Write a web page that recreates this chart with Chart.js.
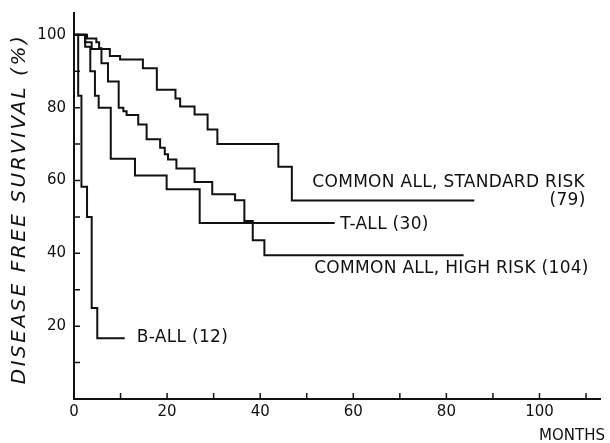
<!DOCTYPE html>
<html>
<head>
<meta charset="utf-8">
<script src="https://cdn.jsdelivr.net/npm/chart.js@4.4.0/dist/chart.umd.min.js"></script>
<style>
  html, body { margin: 0; padding: 0; background: #fff; }
</style>
</head>
<body>
<canvas id="km" width="610" height="443"></canvas>
<script>
// axis ticks
const xTicks = [0, 20, 40, 60, 80, 100]
const yTicks = [20, 40, 60, 80, 100]
const minorStep = 10

// curves (month, % disease free)
const stdMonths = [0, 2.4, 3.8, 7.7, 9.9, 14.8, 17.8, 21.8, 22.8, 25.9, 28.7, 30.8, 43.9, 46.8, 86]
const stdSurv   = [100, 98, 96.1, 94.2, 93.2, 90.8, 84.9, 82.5, 80.3, 78.1, 74, 70, 63.8, 54.5, 54.5]

const tMonths = [0, 2.4, 3.5, 4.5, 5.3, 7.9, 13.1, 19.9, 27, 56]
const tSurv   = [100, 96.7, 90, 83.3, 80, 66, 61.4, 57.6, 48.3, 48.3]

const hrMonths = [0, 2.8, 4.8, 5.4, 5.9, 7.3, 9.6, 10.6, 11.3, 13.8, 15.6, 18.5, 19.5, 20.2, 22, 25.9, 29.7, 34.6, 36.6, 38.4, 40.9, 83.7]
const hrSurv   = [100, 99, 98, 96.3, 92.2, 87.2, 80, 79, 78, 75.4, 71.3, 69, 67.2, 65.8, 63.3, 59.6, 56.2, 54.6, 48.9, 43.6, 39.5, 39.5]

const bMonths = [0, 0.9, 1.6, 2.8, 3.8, 5.0, 10.9]
const bSurv   = [100, 83.3, 58.3, 50, 25, 16.7, 16.7]

// curve labels: text, month, %, align
const labelText  = ['COMMON ALL, STANDARD RISK', '(79)', 'T-ALL (30)', 'COMMON ALL, HIGH RISK (104)', 'B-ALL (12)']
const labelX     = [51.2, 109.9, 57.2, 51.6, 13.5]
const labelY     = [59.3, 54.4, 47.8, 35.8, 16.9]
const labelAlign = ['left', 'right', 'left', 'left', 'left']

const ink = '#111'
const font = 'DejaVu Sans'

const toPts = (xs, ys) => xs.map((x, i) => ({ x: x, y: ys[i] }))

const curve = (name, xs, ys) => ({
  label: name,
  data: toPts(xs, ys),
  borderColor: ink,
  borderWidth: 2,
  pointRadius: 0,
  stepped: true,
  fill: false
})

// little ticks pointing into the plot, curve labels, titles
const decorations = {
  id: 'decorations',
  afterDraw(chart) {
    const c = chart.ctx
    const xs = chart.scales.x
    const ys = chart.scales.y
    c.save()
    c.strokeStyle = ink
    c.lineWidth = 1.5
    c.beginPath()
    for (let v = minorStep; v <= xs.max; v += minorStep) {
      const px = xs.getPixelForValue(v)
      c.moveTo(px, ys.bottom)
      c.lineTo(px, ys.bottom - 6)
    }
    for (let v = minorStep; v <= 100; v += minorStep) {
      const py = ys.getPixelForValue(v)
      c.moveTo(xs.left, py)
      c.lineTo(xs.left + 6, py)
    }
    c.stroke()

    c.fillStyle = ink
    c.textBaseline = 'middle'
    c.font = '17px "' + font + '"'
    c.letterSpacing = '0.3px'
    labelText.forEach((t, i) => {
      c.textAlign = labelAlign[i]
      c.fillText(t, xs.getPixelForValue(labelX[i]), ys.getPixelForValue(labelY[i]))
    })

    c.font = '15px "' + font + '"'
    c.letterSpacing = '0px'
    c.textAlign = 'right'
    c.fillText('MONTHS', xs.right + 5, ys.bottom + 37)

    c.translate(20, (ys.top + ys.bottom) / 2 + 3)
    c.rotate(-Math.PI / 2)
    c.textAlign = 'center'
    c.font = 'italic 20px "' + font + '"'
    c.letterSpacing = '2.5px'
    c.fillText('DISEASE FREE SURVIVAL (%)', 0, 0)
    c.restore()
  }
}

new Chart(document.getElementById('km'), {
  type: 'line',
  data: {
    datasets: [
      curve('Common ALL, standard risk', stdMonths, stdSurv),
      curve('T-ALL', tMonths, tSurv),
      curve('Common ALL, high risk', hrMonths, hrSurv),
      curve('B-ALL', bMonths, bSurv)
    ]
  },
  options: {
    responsive: false,
    animation: false,
    layout: { padding: { top: 13, right: 10, left: 0, bottom: 0 } },
    plugins: {
      legend: { display: false },
      tooltip: { enabled: false }
    },
    scales: {
      x: {
        type: 'linear',
        min: 0,
        max: 113,
        grid: { display: false, drawTicks: false },
        border: { display: true, color: ink, width: 2 },
        afterBuildTicks: s => { s.ticks = xTicks.map(v => ({ value: v })) },
        afterFit: s => { s.height = 44; s.paddingLeft = 0; s.paddingRight = 0 },
        ticks: { color: ink, padding: 4, maxRotation: 0, font: { family: font, size: 15 } }
      },
      y: {
        min: 0,
        max: 106,
        grid: { display: false, drawTicks: false },
        border: { display: true, color: ink, width: 2 },
        afterBuildTicks: s => { s.ticks = yTicks.map(v => ({ value: v })) },
        afterFit: s => { s.width = 74; s.paddingTop = 0; s.paddingBottom = 0 },
        ticks: { color: ink, padding: 8, font: { family: font, size: 15 } }
      }
    }
  },
  plugins: [decorations]
})
</script>
</body>
</html>
